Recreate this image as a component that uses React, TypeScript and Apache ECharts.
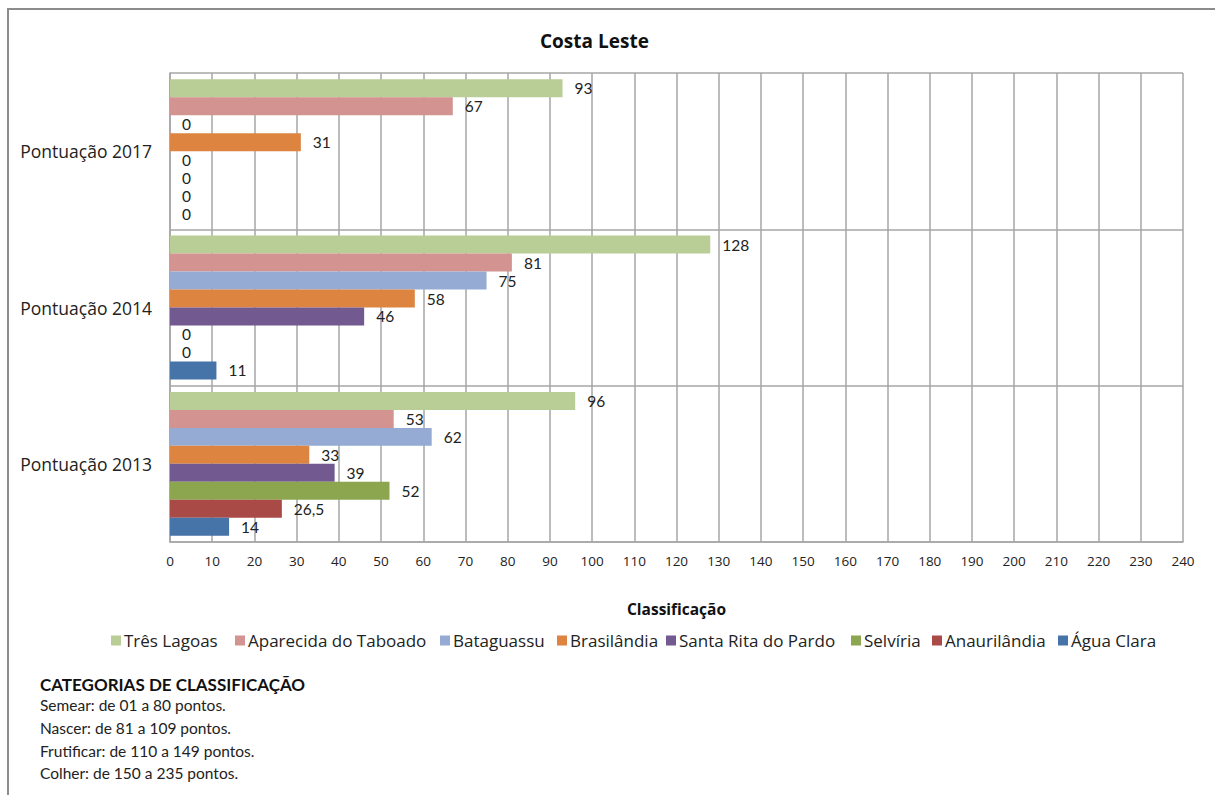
import React, { useEffect, useRef } from "react";
import * as echarts from "echarts";

const categories = ["Pontuação 2017", "Pontuação 2014", "Pontuação 2013"];
const seriesNames = [
  "Três Lagoas",
  "Aparecida do Taboado",
  "Bataguassu",
  "Brasilândia",
  "Santa Rita do Pardo",
  "Selvíria",
  "Anaurilândia",
  "Água Clara",
];
const colors = ["#B9CD96", "#D39391", "#95ABD3", "#DD8440", "#72598F", "#8BA64F", "#A94A46", "#4673A8"];
// values per series: [2017, 2014, 2013]
const tresLagoas = [93, 128, 96];
const aparecida = [67, 81, 53];
const bataguassu = [0, 75, 62];
const brasilandia = [31, 58, 33];
const santaRita = [0, 46, 39];
const selviria = [0, 0, 52];
const anaurilandia = [0, 0, 26.5];
const aguaClara = [0, 11, 14];
const seriesValues = [tresLagoas, aparecida, bataguassu, brasilandia, santaRita, selviria, anaurilandia, aguaClara];

const xTicks = { min: 0, max: 240, interval: 10 };
const notes = [
  "Semear: de 01 a 80 pontos.",
  "Nascer: de 81 a 109 pontos.",
  "Frutificar: de 110 a 149 pontos.",
  "Colher: de 150 a 235 pontos.",
];
const legendLefts = [111, 235, 440, 557, 666, 851, 932, 1058];
const FONT = "'Open Sans', Lato, sans-serif";
const FONT2 = "Lato, 'Open Sans', sans-serif";

export default function App() {
  const ref = useRef<HTMLDivElement>(null);
  useEffect(() => {
    if (!ref.current) return;
    const chart = echarts.init(ref.current, null, { renderer: "svg" });
    const series = seriesNames.map((name, i) => ({
      name,
      type: "bar",
      data: seriesValues[i],
      itemStyle: { color: colors[i] },
      barGap: "0%",
      barCategoryGap: "8%",
      label: {
        show: true,
        position: "right",
        distance: 12,
        color: "#222",
        fontSize: 15.5,
        lineHeight: 15,
        fontFamily: FONT2,
        formatter: (p: any) => String(p.value).replace(".", ","),
      },
    }));
    const legends = seriesNames.map((name, i) => ({
      data: [name],
      left: legendLefts[i],
      top: 632,
      padding: 0,
      icon: "rect",
      itemWidth: 10,
      itemHeight: 10,
      selectedMode: false,
      textStyle: { fontSize: 17, color: "#222", fontFamily: FONT, padding: [0, 0, 0, -2] },
    }));
    chart.setOption({
      animation: false,
      textStyle: { fontFamily: FONT },
      title: {
        text: "Costa Leste",
        left: 535,
        top: 26,
        textStyle: { fontSize: 19, fontWeight: "bold", color: "#111", fontFamily: FONT },
      },
      legend: legends,
      grid: { left: 170, top: 73, right: 32, bottom: 253 },
      xAxis: {
        type: "value",
        min: xTicks.min,
        max: xTicks.max,
        interval: xTicks.interval,
        name: "Classificação",
        nameLocation: "middle",
        nameGap: 59,
        nameTextStyle: { fontSize: 15.5, fontWeight: "bold", color: "#111", fontFamily: FONT },
        axisLine: { show: true, lineStyle: { color: "#a6a6a6", width: 1.5 } },
        axisTick: { show: false },
        axisLabel: { fontSize: 13.5, color: "#222", margin: 12, fontFamily: FONT },
        splitLine: { show: true, lineStyle: { color: "#a6a6a6", width: 1.5 } },
      },
      yAxis: {
        type: "category",
        data: categories,
        inverse: true,
        axisLine: { show: true, lineStyle: { color: "#a6a6a6", width: 1.5 } },
        axisTick: { show: false },
        axisLabel: { fontSize: 17.5, color: "#222", margin: 18, fontFamily: FONT },
        splitLine: { show: true, lineStyle: { color: "#a6a6a6", width: 1.5 } },
      },
      graphic: [
        {
          type: "rect",
          shape: { x: 8, y: 9, width: 1220, height: 800 },
          style: { fill: "none", stroke: "#8c8c8c", lineWidth: 2 },
          silent: true,
        },
        {
          type: "text",
          left: 40,
          top: 676,
          style: { text: "CATEGORIAS DE CLASSIFICAÇÃO", fontSize: 17, fontWeight: "bold", fill: "#111", fontFamily: FONT2 },
        },
        ...notes.map((t, i) => ({
          type: "text",
          left: 40,
          top: 697 + i * 22.8,
          style: { text: t, fontSize: 15.5, fill: "#222", fontFamily: FONT2 },
        })),
      ],
      series,
    });
    return () => chart.dispose();
  }, []);
  return (
    <div
      ref={ref}
      style={{ position: "fixed", left: 0, top: 0, width: 1215, height: 795, background: "#fff" }}
    />
  );
}
